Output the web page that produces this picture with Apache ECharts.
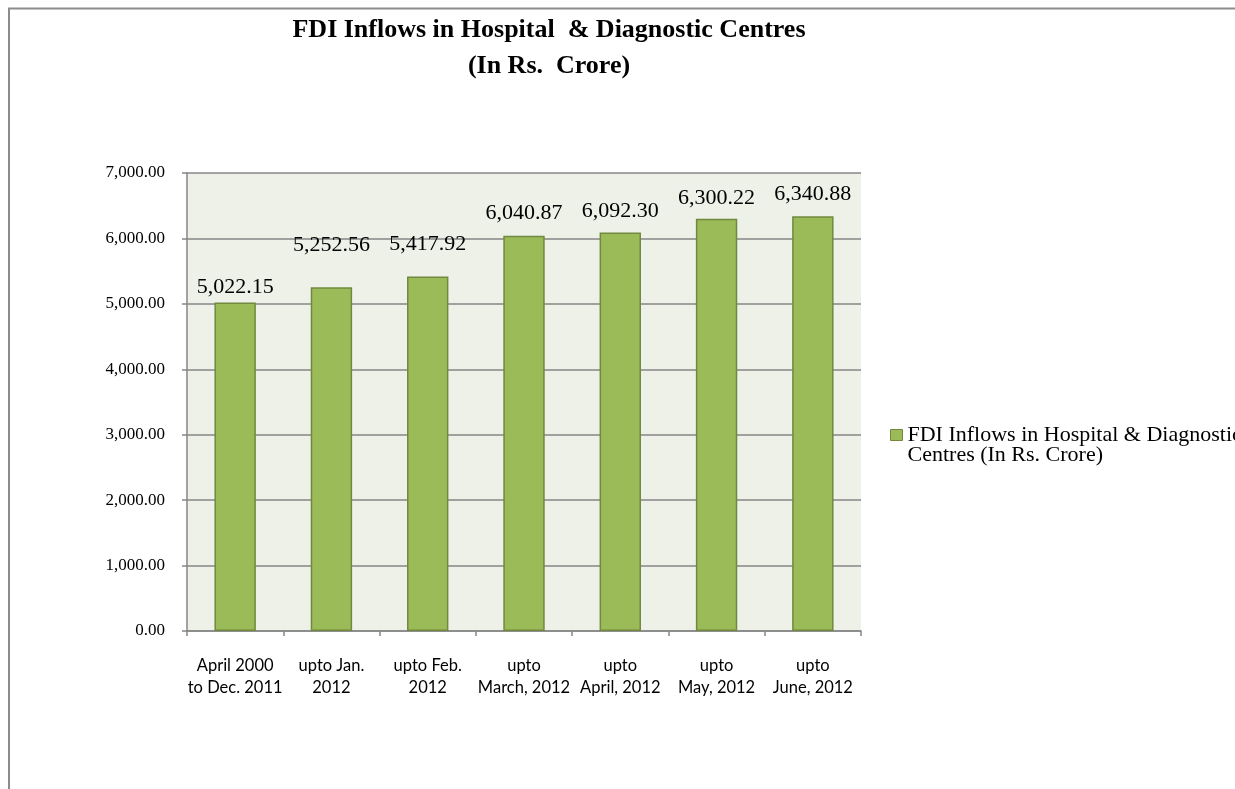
<!DOCTYPE html>
<html>
<head>
<meta charset="utf-8">
<script src="https://cdn.jsdelivr.net/npm/echarts@6/dist/echarts.min.js"></script>
<style>html,body{margin:0;padding:0;background:#fff;}#c{width:1235px;height:789px;}</style>
</head>
<body>
<div id="c"></div>
<script>
var categories = ["April 2000\nto Dec. 2011", "upto Jan.\n2012", "upto Feb.\n2012", "upto\nMarch, 2012", "upto\nApril, 2012", "upto\nMay, 2012", "upto\nJune, 2012"];
var values = [5022.15, 5252.56, 5417.92, 6040.87, 6092.30, 6300.22, 6340.88];
var seriesName = "FDI Inflows in Hospital & Diagnostic\nCentres (In Rs. Crore)";
var titleText = "FDI Inflows in Hospital  & Diagnostic Centres\n(In Rs.  Crore)";
var yMin = 0, yMax = 7000, yInterval = 1000;
// label gaps above each bar (styling only)
var labelGap = [4, 31, 21, 12, 10, 10, 11];

function fmt(v) { return Number(v).toLocaleString('en-US', {minimumFractionDigits: 2, maximumFractionDigits: 2}); }

var barData = values.map(function (v, i) { return { value: v, label: { distance: labelGap[i] } }; });

var chart = echarts.init(document.getElementById('c'));
chart.setOption({
  animation: false,
  backgroundColor: '#ffffff',
  title: {
    text: titleText,
    left: 549, top: 12, padding: 0, textAlign: 'center',
    textStyle: { fontFamily: 'Liberation Serif', fontWeight: 'bold', fontSize: 26, lineHeight: 36, color: '#000' }
  },
  graphic: [{
    type: 'rect', silent: true,
    shape: { x: 9, y: 8.5, width: 1400, height: 1000 },
    style: { fill: 'none', stroke: '#8c8c8c', lineWidth: 2 }
  }],
  legend: {
    orient: 'vertical', left: 890, top: 404, padding: 0,
    itemWidth: 12, itemHeight: 11,
    icon: 'rect',
    itemStyle: { borderColor: '#71893F', borderWidth: 1 },
    formatter: function (n) { return '\n' + n; },
    textStyle: { fontFamily: 'Liberation Serif', fontSize: 22, lineHeight: 20, color: '#000' },
    data: [seriesName]
  },
  grid: { left: 187, right: 374, top: 173, bottom: 158, show: true, backgroundColor: '#EEF1E8', borderWidth: 0 },
  xAxis: {
    type: 'category', data: categories, boundaryGap: true,
    axisLine: { show: true, lineStyle: { color: '#868686', width: 1.5 } },
    axisTick: { show: true, alignWithLabel: false, length: 5, lineStyle: { color: '#868686', width: 1.5 } },
    axisLabel: { interval: 0, margin: 24, fontFamily: 'Lato', fontSize: 16.5, lineHeight: 22, color: '#000' }
  },
  yAxis: {
    type: 'value', min: yMin, max: yMax, interval: yInterval,
    axisLine: { show: true, lineStyle: { color: '#868686', width: 1.5 } },
    axisTick: { show: true, inside: false, length: 5, lineStyle: { color: '#868686', width: 1.5 } },
    splitLine: { show: true, lineStyle: { color: '#868686', width: 1.5 } },
    axisLabel: { margin: 22, fontFamily: 'Liberation Serif', fontSize: 17, color: '#000', formatter: fmt }
  },
  series: [{
    name: seriesName, type: 'bar', data: barData, barWidth: '43%',
    itemStyle: { color: '#9BBB59', borderColor: '#71893F', borderWidth: 1.5 },
    label: { show: true, position: 'top', distance: 4, fontFamily: 'Liberation Serif', fontSize: 22, color: '#000', formatter: function (p) { return fmt(p.value); } }
  }]
});
</script>
</body>
</html>
